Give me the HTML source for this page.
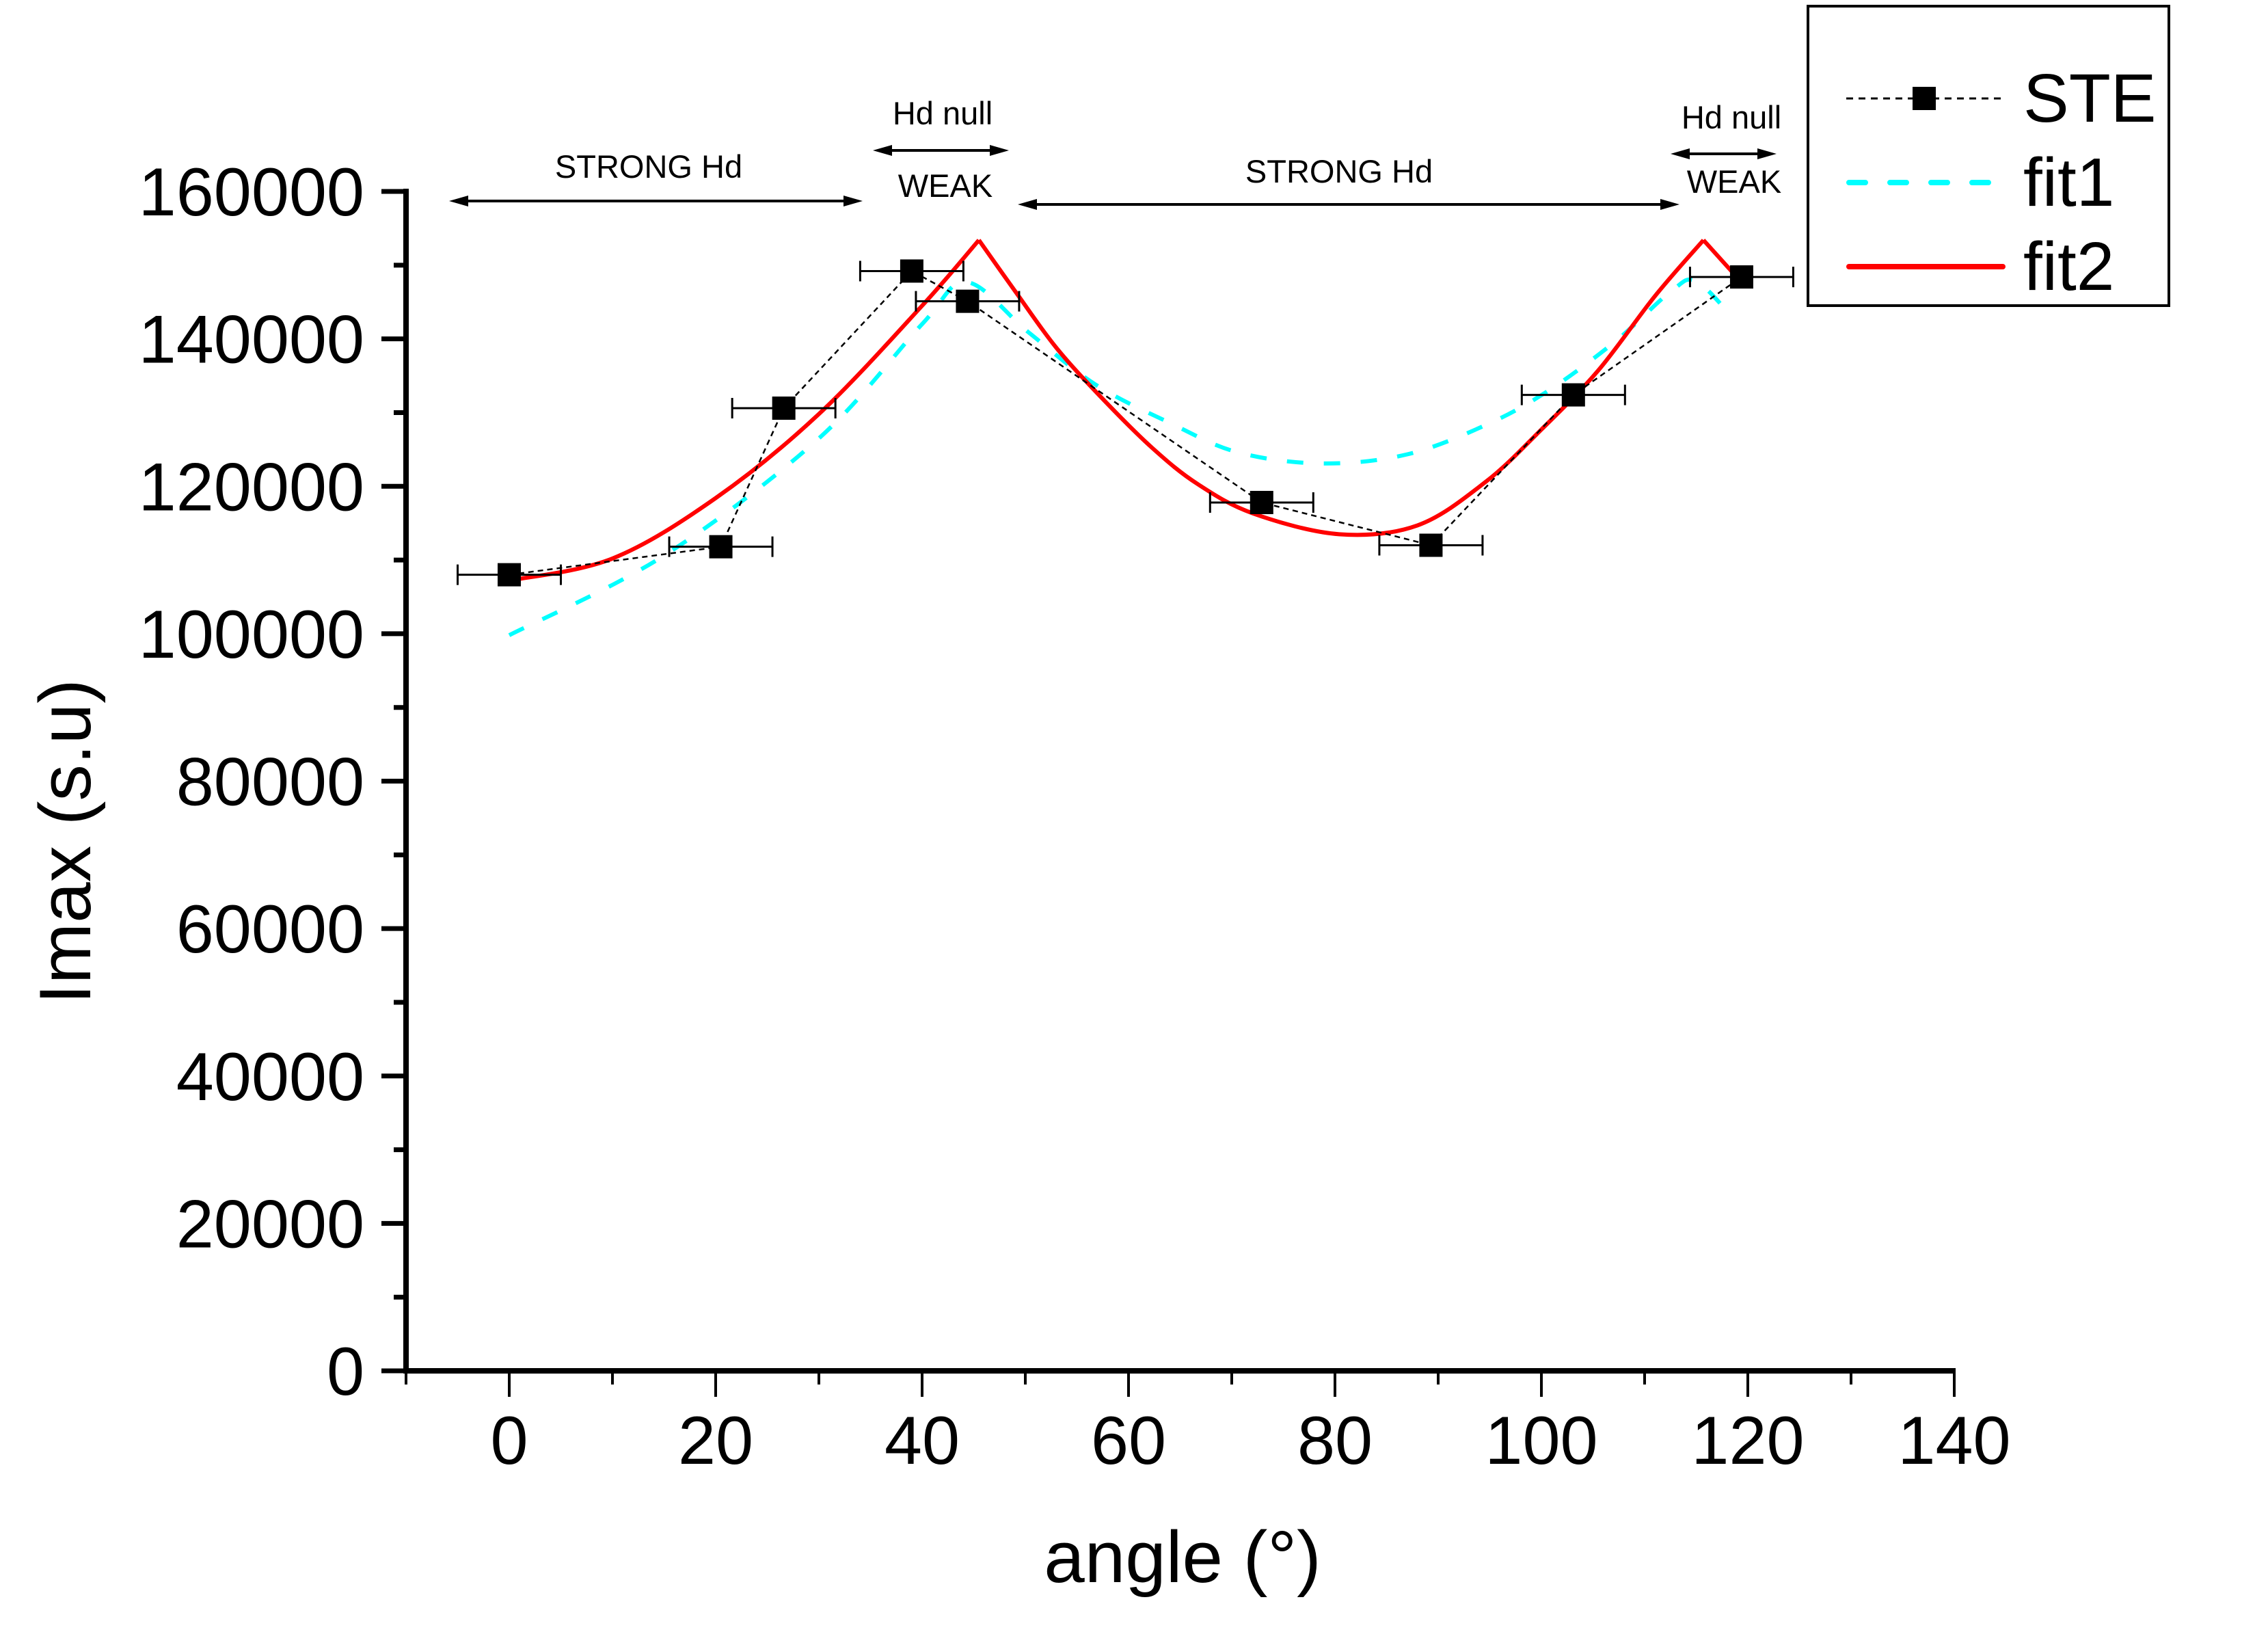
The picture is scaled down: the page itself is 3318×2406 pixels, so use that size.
<!DOCTYPE html>
<html><head><meta charset="utf-8"><style>
html,body{margin:0;padding:0;background:#fff;}
svg{display:block;font-family:"Liberation Sans",sans-serif;}
</style></head><body>
<svg id="chart" width="3318" height="2406" viewBox="0 0 3318 2406" xmlns="http://www.w3.org/2000/svg">
<g id="axes"></g>
<g id="annotations" font-size="47" text-anchor="middle" fill="#000"></g>
<g id="series"></g>
<g id="legend">
  <rect x="2645" y="9" width="528" height="438" fill="#fff" stroke="#000" stroke-width="4"/>
  <g>
    <line x1="2701" y1="144" x2="2930" y2="144" stroke="#000" stroke-width="3" stroke-dasharray="10 8"/>
    <rect x="2798" y="127" width="34" height="34" fill="#000"/>
    <text x="2960" y="178" font-size="100">STE</text>
  </g>
  <g>
    <line x1="2705" y1="267" x2="2915" y2="267" stroke="#00ffff" stroke-width="8" stroke-linecap="round" stroke-dasharray="24 36"/>
    <text x="2960" y="301" font-size="100">fit1</text>
  </g>
  <g>
    <line x1="2705" y1="390" x2="2930" y2="390" stroke="#ff0000" stroke-width="8" stroke-linecap="round"/>
    <text x="2960" y="424" font-size="100">fit2</text>
  </g>
</g>
</svg>
<script>
const xTicks = [0,20,40,60,80,100,120,140];
const yTicks = [0,20000,40000,60000,80000,100000,120000,140000,160000];
const steX = [0,20.5,26.6,39.0,44.4,72.9,89.3,103.1,119.4];
const steY = [108000,111800,130600,149200,145100,117800,112000,132400,148400];
const steErr = [5,5,5,5,5,5,5,5,5];
const fit1X = [0,15,30,40,44.3,50.3,56.8,64,70.6,78.7,86.9,94.6,100.6,107.2,112.6,115,118.6];
const fit1Y = [99800,110600,126500,142000,147700,140900,133800,128600,124600,123100,124300,128300,132900,139700,146500,147800,142800];
const fit2X = [0,10,20,30,40,45.5,49.2,53,57.4,62.3,66.7,72.1,80.4,88,94.6,100,105.5,111,115.7,118.6];
const fit2Y = [107200,110200,118400,129800,144500,153400,146100,138800,132000,125200,120300,116300,113500,114700,120600,127700,135700,145800,153400,148900];
const fit2Peaks = [5,18];

const NS="http://www.w3.org/2000/svg";
const X0=745, PXD=(2859-745)/140, Y0=2005, PXY=(2005-280)/160000;
const sx=v=>X0+v*PXD, sy=v=>Y0-v*PXY;
function mk(tag,attrs,parent){const e=document.createElementNS(NS,tag);for(const k in attrs)e.setAttribute(k,attrs[k]);parent.appendChild(e);return e;}
const axes=document.getElementById('axes');
const yAxis=mk('line',{x1:594,y1:276,x2:594,y2:2009,stroke:'#000','stroke-width':8},axes);


const xAxis=mk('line',{x1:590,y1:2005,x2:sx(140)+2,y2:2005,stroke:'#000','stroke-width':8},axes);


yTicks.forEach((v,i)=>{
  const y=sy(v);
  const t=mk('line',{x1:558,y1:y,x2:594,y2:y,stroke:'#000','stroke-width':7},axes);
  
  
  const l=mk('text',{x:533,y:y+35,'font-size':99,'text-anchor':'end'},axes);
  l.textContent=v;
  
  
  if(i<yTicks.length-1){
    const ym=sy(v+10000);
    const m=mk('line',{x1:576,y1:ym,x2:594,y2:ym,stroke:'#000','stroke-width':7},axes);
    
    
  }
});
for(let d=-10; d<=140; d+=10){
  const x=sx(d), major=(d%20===0);
  const t=mk('line',{x1:x,y1:2005,x2:x,y2:major?2043:2025,stroke:'#000','stroke-width':4},axes);
  
  
}
xTicks.forEach(v=>{
  const l=mk('text',{x:sx(v),y:2141,'font-size':99,'text-anchor':'middle'},axes);
  l.textContent=v;
  
  
});
const xt=mk('text',{x:1730,y:2314,'font-size':107,'text-anchor':'middle'},axes);
xt.textContent='angle (°)';


const yt=mk('text',{x:0,y:0,'font-size':107,'text-anchor':'middle',transform:'translate(132,1231) rotate(-90)'},axes);
yt.textContent='Imax (s.u)';



// annotations
const ann=document.getElementById('annotations');
function arrow(x1,x2,y,name){
  const g=mk('g',{},ann);
  
  
  mk('line',{x1:x1+14,y1:y,x2:x2-14,y2:y,stroke:'#000','stroke-width':4},g);
  mk('polygon',{points:`${x1},${y} ${x1+28},${y-8} ${x1+28},${y+8}`,fill:'#000'},g);
  mk('polygon',{points:`${x2},${y} ${x2-28},${y-8} ${x2-28},${y+8}`,fill:'#000'},g);
}
function label(x,y,s,name){const t=mk('text',{x:x,y:y},ann);t.textContent=s;}
arrow(657,1262,294,'strong-hd-arrow-1'); label(949,260,'STRONG Hd','strong-hd-label-1');
arrow(1277,1476,220,'hd-null-arrow-1'); label(1379,182,'Hd null','hd-null-label-1'); label(1383,288,'WEAK','weak-label-1');
arrow(1489,2457,299,'strong-hd-arrow-2'); label(1959,267,'STRONG Hd','strong-hd-label-2');
arrow(2444,2599,225,'hd-null-arrow-2'); label(2533,188,'Hd null','hd-null-label-2'); label(2537,282,'WEAK','weak-label-2');

// series
const ser=document.getElementById('series');
function smooth(pts){
  let d=`M${pts[0][0]},${pts[0][1]}`;
  for(let i=0;i<pts.length-1;i++){
    const p0=pts[Math.max(0,i-1)],p1=pts[i],p2=pts[i+1],p3=pts[Math.min(pts.length-1,i+2)];
    const c1=[p1[0]+(p2[0]-p0[0])/6,p1[1]+(p2[1]-p0[1])/6];
    const c2=[p2[0]-(p3[0]-p1[0])/6,p2[1]-(p3[1]-p1[1])/6];
    d+=` C${c1[0]},${c1[1]} ${c2[0]},${c2[1]} ${p2[0]},${p2[1]}`;
  }
  return d;
}
const f1pts=fit1X.map((x,i)=>[sx(x),sy(fit1Y[i])]);
const f1=mk('path',{d:smooth(f1pts),fill:'none',stroke:'#00ffff','stroke-width':6,'stroke-dasharray':'24 30'},ser);


const f2pts=fit2X.map((x,i)=>[sx(x),sy(fit2Y[i])]);
let segs=[],start=0;
fit2Peaks.forEach(p=>{segs.push(f2pts.slice(start,p+1));start=p;});
segs.push(f2pts.slice(start));
const f2=mk('path',{d:segs.filter(s=>s.length>1).map(smooth).join(' '),fill:'none',stroke:'#ff0000','stroke-width':6,'stroke-linejoin':'miter'},ser);


const sl=mk('polyline',{points:steX.map((x,i)=>sx(x)+','+sy(steY[i])).join(' '),fill:'none',stroke:'#000','stroke-width':2.5,'stroke-dasharray':'8 6'},ser);


steX.forEach((x,i)=>{
  const cx=sx(x),cy=sy(steY[i]),xa=sx(x-steErr[i]),xb=sx(x+steErr[i]);
  const eb=mk('path',{d:`M${xa},${cy}H${xb}M${xa},${cy-15}V${cy+15}M${xb},${cy-15}V${cy+15}`,stroke:'#000','stroke-width':3,fill:'none'},ser);
  
  
  const r=mk('rect',{x:cx-17,y:cy-17,width:34,height:34,fill:'#000'},ser);
  
  
});
</script>
</body></html>
